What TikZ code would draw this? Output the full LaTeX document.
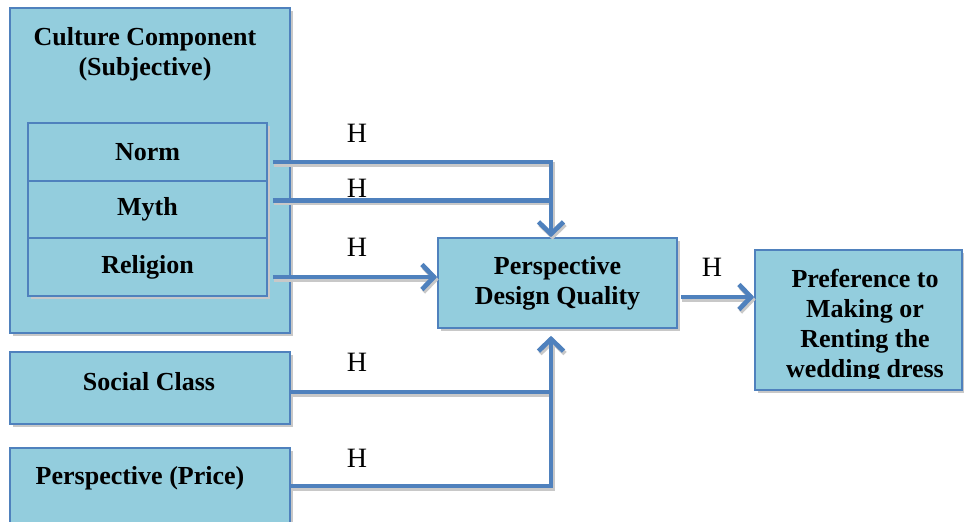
\documentclass[tikz,border=0pt]{standalone}
\usepackage{fontspec}
\setmainfont{Liberation Serif}
\usetikzlibrary{arrows.meta,positioning,shadows}
\definecolor{cfBox}{HTML}{93CDDD}
\definecolor{cfEdge}{HTML}{4F81BD}
\definecolor{cfFlow}{HTML}{4F81BD}
\definecolor{cfShade}{HTML}{C8C8C8}
\colorlet{flowInk}{cfFlow}
\tikzset{
    box/.style={draw=cfEdge, line width=1.6pt, fill=cfBox, inner sep=0pt, align=center, font=\fontsize{26}{30}\selectfont\bfseries, drop shadow={shadow xshift=2.5pt, shadow yshift=-3pt, fill=cfShade, opacity=1}},
    boxtext/.style={font=\fontsize{26}{30}\selectfont\bfseries, align=center, inner sep=0pt},
    hyp/.style={font=\fontsize{28}{30}\selectfont, inner sep=0pt},
    flowline/.style={line width=4.7pt, draw=flowInk},
    flowarrow/.style={flowline, -{Straight Barb[length=12pt, width=25pt]}}
}

\begin{document}
\begin{tikzpicture}[x=1pt, y=-1pt]
\useasboundingbox (0,0) rectangle (964,522);

% culture block with its three parts
\node[box, minimum width=280, minimum height=325] (culture) at (150,170.5) {};
\node[boxtext] (culttitle) at (145,54.5) {Culture Component\\(Subjective)};
\node[box, minimum width=239, minimum height=58] (norm) at (147.5,152) {Norm};
\node[box, minimum width=239, minimum height=57] (myth) at (147.5,209.5) {Myth};
\node[box, minimum width=239, minimum height=58] (religion) at (147.5,267) {Religion};

\node[box, minimum width=280, minimum height=72] (social) at (150,388) {};
\node[boxtext] (socialtxt) at (149,382) {Social Class};
\node[box, minimum width=280, minimum height=92] (price) at (150,494) {};
\node[boxtext] (pricetxt) at (140,478) {Perspective (Price)};

\node[box, minimum width=239, minimum height=90] (pdq) at (557.5,283) {Perspective\\Design Quality};
\node[box, minimum width=207, minimum height=140] (pref) at (858.5,320) {};
\begin{scope}
\clip (755,250) rectangle (964,378);
\node[boxtext] (preftxt) at (865,326) {Preference to\\Making or\\Renting the\\wedding dress};
\end{scope}

% hypothesis labels
\node[hyp] (h1) at (357,133) {H};
\node[hyp] (h2) at (357,188) {H};
\node[hyp] (h3) at (357,247) {H};
\node[hyp] (h4) at (357,362) {H};
\node[hyp] (h5) at (357,458) {H};
\node[hyp] (h6) at (712,267) {H};

\coordinate (dropN) at ([xshift=-6.5pt]pdq.north);
\coordinate (dropS) at ([xshift=-6.5pt]pdq.south);

% connectors: grey shadow pass first, then the blue lines
\foreach \ink/\dx/\dy in {cfShade/1.5/-2.5, cfFlow/0/0} {
  \colorlet{flowInk}{\ink}
  \begin{scope}[transform canvas={shift={(\dx pt,\dy pt)}}]
    \draw[flowarrow] ([xshift=5pt,yshift=-10pt]norm.east) -| (dropN);
    \draw[flowline] ([xshift=5pt,yshift=9pt]myth.east) -- ([yshift=9pt]myth.east -| dropN);
    \draw[flowarrow] ([xshift=5pt,yshift=-10pt]religion.east) -- ([yshift=-10pt]religion.east -| pdq.west);
    \draw[flowarrow, shorten >=7pt] ([yshift=-4pt]social.east) -| (dropS);
    \draw[flowline] ([yshift=8pt]price.east) -| ([yshift=-4pt]social.east -| dropS);
    \draw[flowarrow] ([xshift=3pt,yshift=-14pt]pdq.east) -- ([yshift=-14pt]pdq.east -| pref.west);
  \end{scope}
}
\end{tikzpicture}
\end{document}
